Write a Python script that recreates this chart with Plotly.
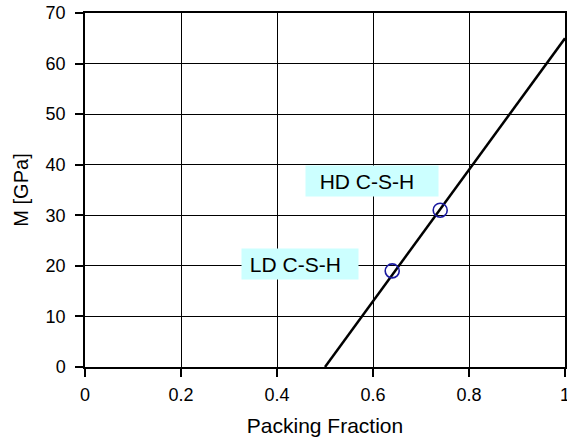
import plotly.graph_objects as go

# Data
line_x = [0.5, 1.0]
line_y = [0.0, 65.0]
pts_x = [0.64, 0.74]
pts_y = [19.0, 31.0]
labels = ["\u00a0LD C-S-H", "\u00a0\u00a0HD C-S-H"]
label_x = [0.4486, 0.598]
label_y = [20.4, 36.7]
label_w = [112, 128]
x_ticks = [0, 0.2, 0.4, 0.6, 0.8, 1]
x_ticktext = ["0", "0.2", "0.4", "0.6", "0.8", "1"]
y_ticks = [0, 10, 20, 30, 40, 50, 60, 70]

FONT = "Liberation Sans, Arial, Helvetica, sans-serif"

fig = go.Figure()
fig.add_trace(go.Scatter(x=line_x, y=line_y, mode="lines",
                         line=dict(color="black", width=2.5), showlegend=False))
fig.add_trace(go.Scatter(x=pts_x, y=pts_y, mode="markers",
                         marker=dict(symbol="circle-open", size=14,
                                     color="#1a1aa0", line=dict(width=1.6, color="#1a1aa0")),
                         showlegend=False))

for t, x, y, w in zip(labels, label_x, label_y, label_w):
    fig.add_annotation(x=x, y=y, xref="x", yref="y", text=t, showarrow=False,
                       font=dict(family=FONT, size=21, color="black"),
                       bgcolor="#ccffff", width=w, height=26, align="left",
                       borderpad=2, xanchor="center", yanchor="middle")

fig.update_layout(
    width=567, height=440,
    margin=dict(l=85, r=2, t=13, b=73, autoexpand=False),
    paper_bgcolor="white", plot_bgcolor="white",
    font=dict(family=FONT, size=18, color="black"),
    xaxis=dict(range=[0, 1], tickvals=x_ticks, ticktext=x_ticktext,
               showgrid=True, gridcolor="black", gridwidth=1,
               showline=True, linecolor="black", linewidth=1.5, mirror=True,
               ticks="outside", ticklen=8, tickwidth=1.5, tickcolor="black",
               zeroline=False, ticklabelstandoff=3, ticklabeloverflow="allow",
               automargin=False,
               title=dict(text="Packing Fraction", font=dict(size=21), standoff=14)),
    yaxis=dict(range=[0, 70], tickvals=y_ticks,
               showgrid=True, gridcolor="black", gridwidth=1,
               showline=True, linecolor="black", linewidth=1.5, mirror=True,
               ticks="outside", ticklen=8, tickwidth=1.5, tickcolor="black",
               zeroline=False, ticklabelstandoff=6, ticklabeloverflow="allow",
               automargin=False,
               title=dict(text="M [GPa]", font=dict(size=20), standoff=12)),
)

fig.write_html("out.html")
